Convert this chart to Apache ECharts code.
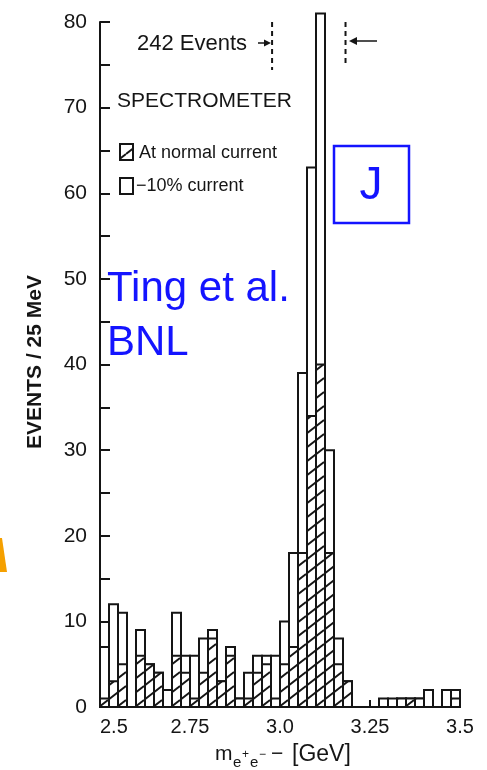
<!DOCTYPE html>
<html><head><meta charset="utf-8">
<script src="https://cdn.jsdelivr.net/npm/echarts@6/dist/echarts.min.js"></script>
<style>html,body{margin:0;padding:0;background:#fff}#c{width:487px;height:770px}</style>
</head><body><div id="c"></div>
<script>
// ---- data ----
const binStart = 2.5;      // GeV
const binWidth = 0.025;    // 25 MeV bins
// open histogram: -10% spectrometer current
const minusTenCounts = [7,12,11,0,9,5,4,2,11,6, 6,8,9,3,7,1,4,6,6,6, 10,18,39,63,81,30,8,3,0,0, 0,1,1,1,1,1,2,0,2,2];
// hatched histogram: normal spectrometer current
const normalCounts   = [1,3,5,0,6,5,4,0,6,4, 1,4,8,3,6,1,1,4,5,1, 5,7,18,34,40,18,5,3,0,0, 0,0,0,1,1,1,0,0,0,1];
const xTickLabels = ['2.5','2.75','3.0','3.25','3.5'];
const eventWindow = [2.978, 3.182]; // dashed markers round the 242 events

const FONT = "'Liberation Sans', Arial, sans-serif";
const INK = '#151515';
const BLUE = '#1414ff';

function toBins(counts){
  return counts.map((v,i)=>[binStart+i*binWidth, binStart+(i+1)*binWidth, v]);
}
function hatchCanvas(){
  const w=18,h=14,c=document.createElement('canvas');
  c.width=w;c.height=h;
  const g=c.getContext('2d');
  g.fillStyle='#fff';g.fillRect(0,0,w,h);
  g.strokeStyle=INK;g.lineWidth=1.9;
  for(let n=-1;n<=1;n++){g.beginPath();g.moveTo(0,h+n*h);g.lineTo(w,n*h);g.stroke();}
  return c;
}
const hatch = {image: hatchCanvas(), repeat:'repeat'};

function renderer(fill){
  return function(params, api){
    const v = api.value(2);
    if(!v) return null;
    const p0 = api.coord([api.value(0),0]);
    const p1 = api.coord([api.value(1),v]);
    return {type:'rect', shape:{x:p0[0], y:p1[1], width:p1[0]-p0[0], height:p0[1]-p1[1]},
      style:{fill:fill, stroke:INK, lineWidth:2}};
  };
}

const chart = echarts.init(document.getElementById('c'), null, {renderer:'canvas'});
const lineStyle = {color:INK, width:2};
chart.setOption({
  animation:false,
  backgroundColor:'#fff',
  grid:{left:100, right:27, top:22, bottom:63},
  xAxis:{type:'value', min:2.5, max:3.5, interval:0.25,
    axisLine:{lineStyle:lineStyle}, axisTick:{inside:true, length:7, lineStyle:lineStyle},
    splitLine:{show:false},
    axisLabel:{fontSize:20, color:INK, fontFamily:FONT, margin:10, alignMinLabel:'left',
      formatter:(v)=>xTickLabels[Math.round((v-2.5)/0.25)]}},
  yAxis:{type:'value', min:0, max:80, interval:10,
    axisLine:{show:true, lineStyle:lineStyle},
    axisTick:{show:true, inside:true, length:10, lineStyle:lineStyle},
    minorTick:{show:true, splitNumber:2, length:10, lineStyle:lineStyle},
    splitLine:{show:false},
    axisLabel:{fontSize:21, color:INK, fontFamily:FONT, margin:13}},
  series:[
    {type:'custom', name:'-10% current', data:toBins(minusTenCounts), renderItem:renderer('#fff'), clip:false, z:2,
      encode:{x:[0,1], y:2}},
    {type:'custom', name:'At normal current', data:toBins(normalCounts), renderItem:renderer(hatch), clip:false, z:3,
      encode:{x:[0,1], y:2}},
    {type:'line', data:[[eventWindow[0],80],[eventWindow[0],74.4]], symbol:'none', z:4,
      lineStyle:{color:INK, width:2, type:[5,4]}},
    {type:'line', data:[[eventWindow[1],80],[eventWindow[1],75.2]], symbol:'none', z:4,
      lineStyle:{color:INK, width:2, type:[5,4]}}
  ],
  graphic:[
    {type:'text', left:137, top:33, style:{text:'242 Events', fontSize:22, fontFamily:FONT, fill:INK}},
    {type:'line', shape:{x1:258,y1:43,x2:268,y2:43}, style:{stroke:INK, lineWidth:1.5}},
    {type:'polygon', shape:{points:[[271,43],[264,39.5],[264,46.5]]}, style:{fill:INK}},
    {type:'line', shape:{x1:377,y1:41,x2:352,y2:41}, style:{stroke:INK, lineWidth:1.5}},
    {type:'polygon', shape:{points:[[349,41],[357,37],[357,45]]}, style:{fill:INK}},
    {type:'text', left:117, top:91, style:{text:'SPECTROMETER', fontSize:21, fontFamily:FONT, fill:INK}},
    {type:'rect', shape:{x:120,y:144,width:13,height:16}, style:{fill:hatch, stroke:INK, lineWidth:2}},
    {type:'text', left:139, top:144, style:{text:'At normal current', fontSize:18, fontFamily:FONT, fill:INK}},
    {type:'rect', shape:{x:120,y:178,width:13,height:16}, style:{fill:'#fff', stroke:INK, lineWidth:2}},
    {type:'text', left:136, top:177, style:{text:'\u221210% current', fontSize:18, fontFamily:FONT, fill:INK}},
    {type:'text', x:35, y:362, rotation:Math.PI/2, style:{text:'EVENTS / 25 MeV', fontSize:21, fontWeight:'bold', fontFamily:FONT, fill:INK, align:'center', verticalAlign:'middle'}},
    {type:'text', left:215, top:744, style:{text:'m', fontSize:21, fontFamily:FONT, fill:INK}},
    {type:'text', left:233, top:755, style:{text:'e', fontSize:15, fontFamily:FONT, fill:INK}},
    {type:'text', left:242, top:749, style:{text:'+', fontSize:12, fontFamily:FONT, fill:INK}},
    {type:'text', left:250, top:755, style:{text:'e', fontSize:15, fontFamily:FONT, fill:INK}},
    {type:'text', left:259, top:749, style:{text:'\u2212', fontSize:12, fontFamily:FONT, fill:INK}},
    {type:'text', left:271, top:744, style:{text:'\u2212', fontSize:21, fontFamily:FONT, fill:INK}},
    {type:'text', left:292, top:743, style:{text:'[GeV]', fontSize:23, fontFamily:FONT, fill:INK}},
    {type:'text', left:107, top:262, style:{text:'Ting et al.\nBNL', fontSize:42, lineHeight:54, fontFamily:FONT, fill:BLUE}},
    {type:'rect', shape:{x:334,y:146,width:75,height:77}, style:{fill:'none', stroke:BLUE, lineWidth:2.5}},
    {type:'text', x:371, y:186, style:{text:'J', fontSize:46, fontFamily:FONT, fill:BLUE, align:'center', verticalAlign:'middle'}},
    {type:'polygon', shape:{points:[[0,538],[2,538],[7,572],[0,572]]}, style:{fill:'#f5a000'}}
  ]
});
</script></body></html>
